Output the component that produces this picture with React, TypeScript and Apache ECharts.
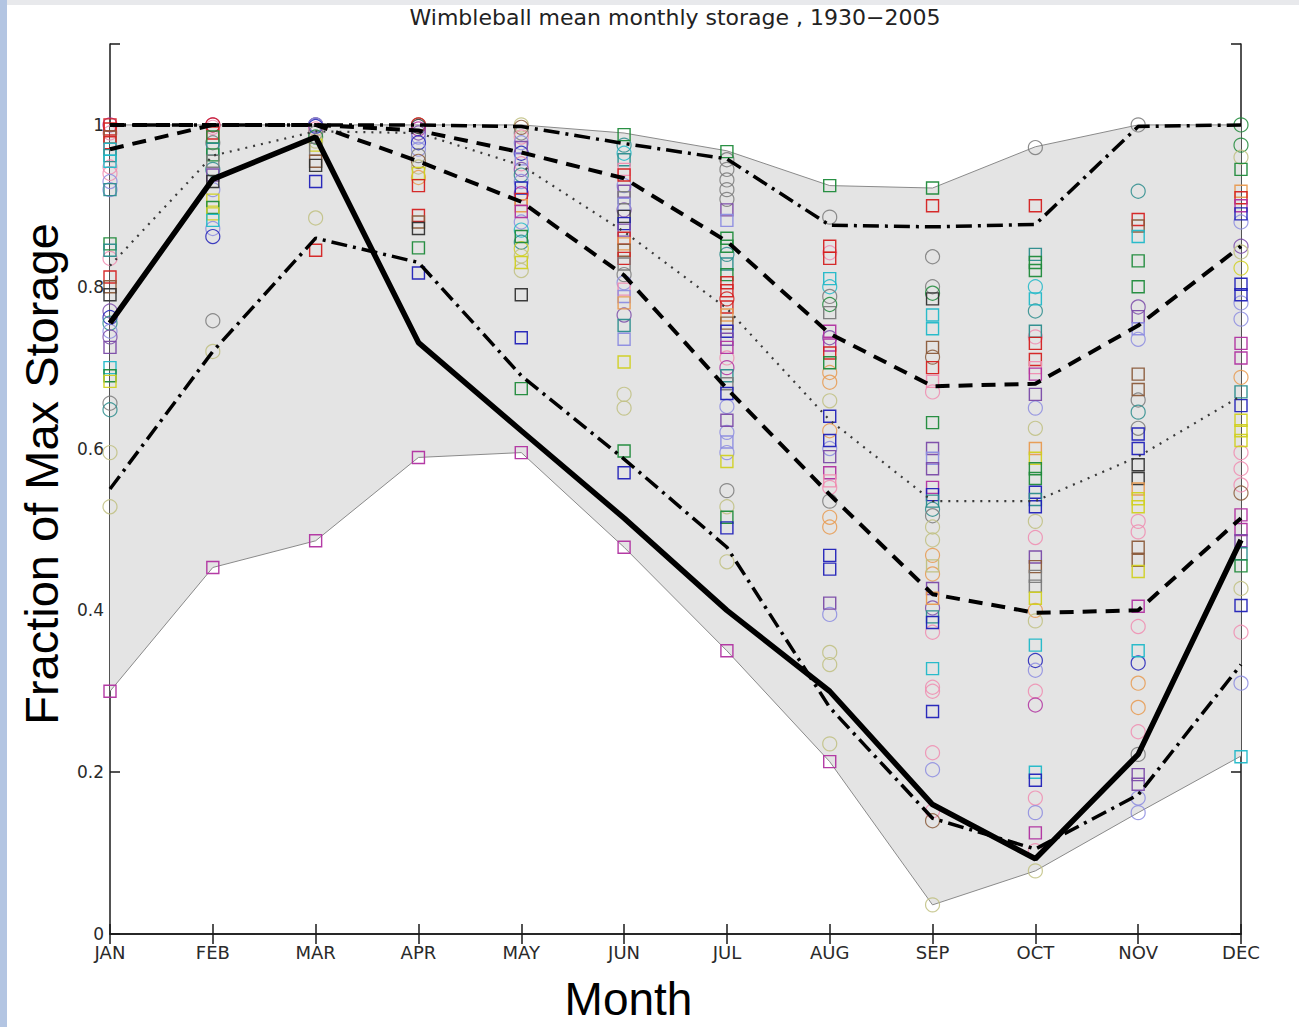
import { useEffect, useRef } from 'react'
import * as echarts from 'echarts'

type Mark = [number, string, 's' | 'o']

const months = ['JAN', 'FEB', 'MAR', 'APR', 'MAY', 'JUN', 'JUL', 'AUG', 'SEP', 'OCT', 'NOV', 'DEC']

// envelope of all years
const maxStorage = [1.0, 1.0, 1.0, 1.0, 1.0, 0.99, 0.968, 0.925, 0.922, 0.973, 1.0, 1.0]
const minStorage = [0.3, 0.453, 0.486, 0.589, 0.595, 0.478, 0.35, 0.213, 0.036, 0.078, 0.15, 0.22]

// highlighted year (thick solid)
const thickYear = [0.755, 0.933, 0.985, 0.731, 0.622, 0.514, 0.4, 0.3, 0.16, 0.093, 0.222, 0.487]
const upperDashDot = [1.0, 1.0, 1.0, 1.0, 0.998, 0.977, 0.958, 0.876, 0.874, 0.877, 0.998, 1.0]
const upperDashed = [1.0, 1.0, 1.0, 0.993, 0.966, 0.934, 0.856, 0.742, 0.677, 0.68, 0.752, 0.85]
const medianDotted = [0.826, 0.962, 0.992, 0.99, 0.95, 0.868, 0.773, 0.635, 0.535, 0.535, 0.59, 0.665]
const lowerDashed = [0.97, 1.0, 1.0, 0.955, 0.905, 0.814, 0.674, 0.543, 0.42, 0.397, 0.4, 0.514]
const lowerDashDot = [0.55, 0.72, 0.86, 0.83, 0.69, 0.587, 0.478, 0.28, 0.143, 0.105, 0.172, 0.333]

const palette: Record<string, string> = {
  r: '#d42020', g: '#1e8a3a', b: '#2020b8', c: '#20b8c8', m: '#b030a0',
  y: '#d0d020', k: '#303030', p: '#f08cb0', l: '#8c8ce0', o: '#e89a50',
  n: '#8a5a3a', v: '#c0c080', a: '#7a7a7a', t: '#2a8c8c', u: '#7a4aa8',
}

const janMarks: Mark[] = [
  [1.0, 'r', 's'], [1.0, 'm', 'o'], [0.995, 'r', 's'], [0.99, 'p', 'o'], [0.985, 'n', 's'], [0.978, 'r', 's'],
  [0.97, 'c', 's'], [0.962, 't', 's'], [0.955, 'c', 's'], [0.948, 'p', 'o'], [0.94, 'p', 'o'], [0.93, 'l', 'o'],
  [0.92, 't', 's'], [0.92, 'l', 'o'], [0.853, 'g', 's'], [0.845, 't', 's'], [0.835, 'p', 'o'], [0.812, 'r', 's'],
  [0.8, 'n', 's'], [0.79, 'k', 's'], [0.77, 'u', 'o'], [0.762, 'b', 'o'], [0.755, 't', 'o'], [0.745, 'l', 'o'],
  [0.738, 'u', 'o'], [0.725, 'u', 's'], [0.7, 'c', 's'], [0.69, 'g', 's'], [0.683, 'y', 's'], [0.656, 'a', 'o'],
  [0.648, 't', 'o'], [0.595, 'v', 'o'], [0.528, 'v', 'o'], [0.3, 'm', 's'],
]
const febMarks: Mark[] = [
  [1.0, 'm', 'o'], [1.0, 'r', 'o'], [0.997, 'p', 'o'], [0.99, 'r', 's'], [0.985, 'g', 's'], [0.978, 'a', 'o'],
  [0.97, 't', 's'], [0.963, 'g', 's'], [0.955, 'a', 's'], [0.945, 't', 'o'], [0.938, 'u', 's'], [0.93, 'k', 's'],
  [0.92, 'l', 'o'], [0.907, 'y', 's'], [0.898, 'g', 's'], [0.89, 'y', 's'], [0.882, 'c', 's'], [0.872, 'l', 'o'],
  [0.862, 'b', 'o'], [0.758, 'a', 'o'], [0.72, 'v', 'o'], [0.453, 'm', 's'],
]
const marMarks: Mark[] = [
  [1.0, 'a', 'o'], [1.0, 'u', 'o'], [1.0, 'l', 'o'], [0.998, 'b', 'o'], [0.995, 'p', 'o'], [0.99, 'a', 'o'],
  [0.985, 'g', 'o'], [0.98, 'v', 'o'], [0.975, 'y', 's'], [0.97, 'a', 's'], [0.955, 'n', 's'], [0.95, 'k', 's'],
  [0.93, 'b', 's'], [0.885, 'v', 'o'], [0.845, 'r', 's'], [0.486, 'm', 's'],
]
const aprMarks: Mark[] = [
  [1.0, 'n', 'o'], [1.0, 'r', 'o'], [0.998, 'k', 'o'], [0.995, 'm', 'o'], [0.99, 'u', 'o'], [0.985, 'l', 'o'],
  [0.978, 'b', 'o'], [0.97, 'l', 'o'], [0.962, 'a', 'o'], [0.955, 'n', 'o'], [0.948, 'v', 'o'], [0.94, 'y', 's'],
  [0.935, 'o', 'o'], [0.925, 'r', 's'], [0.888, 'r', 's'], [0.88, 'n', 's'], [0.872, 'k', 's'], [0.848, 'g', 's'],
  [0.817, 'b', 's'], [0.589, 'm', 's'],
]
const mayMarks: Mark[] = [
  [1.0, 'v', 'o'], [0.997, 'n', 'o'], [0.99, 'a', 'o'], [0.985, 'p', 'o'], [0.978, 'l', 'o'], [0.972, 'u', 's'],
  [0.965, 'b', 'o'], [0.958, 'l', 's'], [0.952, 'p', 'o'], [0.945, 'u', 'o'], [0.938, 't', 'o'], [0.93, 'l', 'o'],
  [0.922, 'b', 's'], [0.915, 'm', 'o'], [0.908, 'r', 's'], [0.9, 'o', 's'], [0.893, 'm', 's'], [0.88, 'l', 'o'],
  [0.87, 'c', 'o'], [0.862, 'g', 's'], [0.855, 't', 'o'], [0.847, 'y', 'o'], [0.838, 'v', 'o'], [0.83, 'y', 's'],
  [0.82, 'v', 'o'], [0.79, 'k', 's'], [0.737, 'b', 's'], [0.674, 'g', 's'], [0.595, 'm', 's'],
]
const junMarks: Mark[] = [
  [0.988, 'g', 's'], [0.975, 't', 'o'], [0.965, 'c', 'o'], [0.957, 't', 's'], [0.945, 'p', 's'], [0.938, 'r', 's'],
  [0.925, 'l', 'o'], [0.918, 'u', 's'], [0.91, 'a', 's'], [0.902, 'l', 's'], [0.895, 'u', 'o'], [0.887, 'k', 's'],
  [0.878, 'b', 's'], [0.87, 'u', 's'], [0.86, 'r', 's'], [0.853, 'o', 's'], [0.845, 'n', 's'], [0.835, 'r', 's'],
  [0.828, 'a', 's'], [0.815, 'a', 'o'], [0.805, 'l', 'o'], [0.797, 'p', 's'], [0.788, 'l', 's'], [0.78, 'o', 's'],
  [0.765, 'u', 'o'], [0.752, 't', 's'], [0.735, 'l', 's'], [0.707, 'y', 's'], [0.667, 'v', 'o'], [0.65, 'v', 'o'],
  [0.597, 'g', 's'], [0.57, 'b', 's'], [0.478, 'm', 's'],
]
const julMarks: Mark[] = [
  [0.967, 'g', 's'], [0.957, 'a', 'o'], [0.945, 'a', 'o'], [0.932, 'a', 'o'], [0.92, 'a', 'o'], [0.908, 'a', 'o'],
  [0.895, 'u', 's'], [0.882, 'l', 's'], [0.86, 'g', 's'], [0.85, 'g', 's'], [0.84, 't', 'o'], [0.828, 't', 's'],
  [0.815, 'g', 's'], [0.805, 'r', 's'], [0.795, 'r', 's'], [0.785, 'r', 'o'], [0.775, 'r', 's'], [0.765, 'o', 's'],
  [0.755, 'n', 's'], [0.745, 'b', 's'], [0.735, 'u', 's'], [0.725, 'm', 's'], [0.712, 'p', 'o'], [0.7, 'm', 'o'],
  [0.69, 't', 's'], [0.68, 'a', 's'], [0.668, 'b', 's'], [0.652, 'l', 'o'], [0.635, 'u', 's'], [0.62, 'l', 'o'],
  [0.608, 'l', 's'], [0.595, 'l', 'o'], [0.584, 'y', 's'], [0.548, 'a', 'o'], [0.528, 'v', 'o'], [0.515, 'g', 's'],
  [0.502, 'b', 's'], [0.46, 'v', 'o'], [0.35, 'm', 's'],
]
const augMarks: Mark[] = [
  [0.925, 'g', 's'], [0.886, 'a', 'o'], [0.85, 'r', 's'], [0.842, 'p', 'o'], [0.835, 'r', 's'], [0.81, 'c', 's'],
  [0.8, 'c', 'o'], [0.788, 'a', 'o'], [0.778, 'g', 'o'], [0.768, 'a', 's'], [0.745, 'm', 's'], [0.737, 'u', 'o'],
  [0.728, 'm', 's'], [0.718, 'r', 's'], [0.706, 'g', 's'], [0.694, 'o', 'o'], [0.682, 'o', 'o'], [0.659, 'v', 'o'],
  [0.64, 'b', 's'], [0.622, 'o', 'o'], [0.61, 'b', 's'], [0.6, 'l', 'o'], [0.59, 'u', 's'], [0.57, 'm', 's'],
  [0.56, 'p', 's'], [0.552, 'p', 'o'], [0.535, 'a', 'o'], [0.515, 'o', 'o'], [0.503, 'o', 'o'], [0.468, 'b', 's'],
  [0.451, 'b', 's'], [0.409, 'u', 's'], [0.395, 'l', 'o'], [0.348, 'v', 'o'], [0.333, 'v', 'o'], [0.235, 'v', 'o'],
  [0.213, 'm', 's'],
]
const sepMarks: Mark[] = [
  [0.922, 'g', 's'], [0.9, 'r', 's'], [0.837, 'a', 'o'], [0.8, 'a', 'o'], [0.792, 'g', 'o'], [0.785, 'k', 's'],
  [0.765, 'c', 's'], [0.748, 'c', 's'], [0.725, 'n', 's'], [0.713, 'n', 'o'], [0.7, 'r', 's'], [0.683, 'p', 's'],
  [0.67, 'p', 'o'], [0.632, 'g', 's'], [0.6, 'u', 's'], [0.588, 'l', 's'], [0.575, 'u', 's'], [0.552, 'm', 's'],
  [0.543, 'b', 's'], [0.535, 't', 's'], [0.525, 't', 'o'], [0.517, 'a', 'o'], [0.503, 'v', 'o'], [0.487, 'v', 'o'],
  [0.468, 'o', 'o'], [0.455, 'v', 's'], [0.445, 'o', 'o'], [0.427, 'u', 's'], [0.415, 'o', 's'], [0.403, 'u', 'o'],
  [0.392, 't', 's'], [0.385, 'b', 's'], [0.373, 'p', 'o'], [0.328, 'c', 's'], [0.305, 'p', 'o'], [0.3, 'p', 'o'],
  [0.275, 'b', 's'], [0.224, 'p', 'o'], [0.203, 'l', 'o'], [0.152, 'p', 'o'], [0.14, 'n', 'o'], [0.036, 'v', 'o'],
]
const octMarks: Mark[] = [
  [0.972, 'a', 'o'], [0.9, 'r', 's'], [0.84, 't', 's'], [0.83, 'g', 's'], [0.82, 'g', 's'], [0.8, 'c', 'o'],
  [0.785, 'c', 's'], [0.77, 't', 'o'], [0.745, 't', 's'], [0.738, 'p', 'o'], [0.73, 'r', 's'], [0.71, 'r', 's'],
  [0.7, 'p', 's'], [0.692, 'm', 's'], [0.667, 'u', 's'], [0.65, 'l', 'o'], [0.625, 'v', 'o'], [0.6, 'o', 's'],
  [0.588, 'y', 's'], [0.575, 'g', 's'], [0.563, 'g', 's'], [0.546, 'b', 's'], [0.537, 't', 's'], [0.528, 'b', 's'],
  [0.51, 'v', 'o'], [0.49, 'p', 'o'], [0.466, 'u', 's'], [0.454, 'n', 's'], [0.442, 'a', 's'], [0.43, 'a', 's'],
  [0.415, 'y', 's'], [0.4, 'o', 'o'], [0.387, 'v', 'o'], [0.357, 'c', 's'], [0.338, 'b', 'o'], [0.326, 'l', 'o'],
  [0.3, 'p', 'o'], [0.283, 'm', 'o'], [0.2, 'c', 's'], [0.19, 'b', 's'], [0.168, 'p', 'o'], [0.15, 'l', 'o'],
  [0.125, 'm', 's'], [0.103, 'p', 'o'], [0.078, 'v', 'o'],
]
const novMarks: Mark[] = [
  [1.0, 'a', 'o'], [0.918, 't', 'o'], [0.883, 'r', 's'], [0.875, 'n', 's'], [0.862, 'c', 's'], [0.832, 'g', 's'],
  [0.8, 'g', 's'], [0.775, 'u', 'o'], [0.763, 'u', 's'], [0.748, 'l', 's'], [0.735, 'l', 'o'], [0.692, 'n', 's'],
  [0.673, 'n', 's'], [0.66, 'a', 'o'], [0.645, 't', 'o'], [0.625, 'a', 'o'], [0.618, 'b', 's'], [0.6, 'b', 's'],
  [0.58, 'k', 's'], [0.563, 'k', 's'], [0.55, 'o', 's'], [0.538, 'y', 's'], [0.528, 'y', 's'], [0.51, 'p', 'o'],
  [0.497, 'p', 'o'], [0.478, 'n', 's'], [0.462, 'n', 's'], [0.448, 'y', 's'], [0.405, 'm', 's'], [0.38, 'p', 'o'],
  [0.35, 'c', 's'], [0.335, 'b', 'o'], [0.31, 'o', 'o'], [0.28, 'o', 'o'], [0.25, 'p', 'o'], [0.222, 'a', 'o'],
  [0.197, 'u', 's'], [0.185, 'u', 's'], [0.168, 'l', 'o'], [0.15, 'l', 'o'],
]
const decMarks: Mark[] = [
  [1.0, 'g', 'o'], [0.975, 'g', 'o'], [0.96, 'v', 'o'], [0.945, 'g', 's'], [0.918, 'o', 's'], [0.91, 'r', 's'],
  [0.9, 'm', 's'], [0.89, 'b', 's'], [0.88, 'l', 'o'], [0.85, 'u', 'o'], [0.843, 'v', 'o'], [0.823, 'y', 'o'],
  [0.803, 'b', 's'], [0.79, 'b', 's'], [0.78, 'l', 'o'], [0.76, 'l', 'o'], [0.73, 'm', 's'], [0.712, 'm', 's'],
  [0.688, 'o', 'o'], [0.67, 't', 's'], [0.653, 'b', 's'], [0.635, 'y', 's'], [0.622, 'y', 's'], [0.61, 'y', 's'],
  [0.595, 'p', 'o'], [0.575, 'p', 'o'], [0.555, 'p', 'o'], [0.545, 'n', 'o'], [0.518, 'm', 's'], [0.5, 'm', 's'],
  [0.486, 'u', 's'], [0.47, 't', 's'], [0.455, 'g', 's'], [0.427, 'v', 'o'], [0.406, 'b', 's'], [0.373, 'p', 'o'],
  [0.31, 'l', 'o'], [0.219, 'c', 's'],
]

const monthMarks = [janMarks, febMarks, marMarks, aprMarks, mayMarks, junMarks,
  julMarks, augMarks, sepMarks, octMarks, novMarks, decMarks]

const AXIS = '#1a1a1a'

export default function App() {
  const rootRef = useRef<HTMLDivElement | null>(null)
  useEffect(() => {
    if (!rootRef.current) return
    const chart = echarts.init(rootRef.current, null, { renderer: 'svg' })

    const squares: any[] = []
    const circles: any[] = []
    monthMarks.forEach((list, i) => {
      list.forEach(([v, c, m]) => {
        const item = { value: [i, v], itemStyle: { borderColor: palette[c] } }
        if (m === 's') squares.push(item)
        else circles.push(item)
      })
    })

    const curve = (name: string, data: number[], width: number, type: any, color = '#000') => ({
      type: 'line', name, data, symbol: 'none', z: 6, silent: true,
      lineStyle: { color, width, type, cap: 'butt' },
    })

    chart.setOption({
      animation: false,
      title: {
        text: 'Wimbleball mean monthly storage , 1930\u22122005',
        left: 675, top: 6, textAlign: 'center', padding: 0,
        textStyle: { fontSize: 22, fontWeight: 'normal', color: '#222', fontFamily: 'DejaVu Sans' },
      },
      grid: { left: 110, right: 58, top: 44, bottom: 90, containLabel: false },
      xAxis: [
        {
          type: 'category', data: months, boundaryGap: false,
          axisLine: { lineStyle: { color: AXIS, width: 1.5 } },
          axisTick: { inside: true, length: 10, lineStyle: { color: AXIS, width: 1.5 } },
          axisLabel: { color: '#2a2a2a', fontSize: 18, fontFamily: 'DejaVu Sans', margin: 9 },
          splitLine: { show: false },
          name: 'Month', nameLocation: 'middle', nameGap: 42,
          nameTextStyle: { fontSize: 46, color: '#000', fontFamily: 'Liberation Sans', padding: [0, 94, 0, 0] },
        },
        {
          type: 'category', data: months, boundaryGap: false, position: 'top',
          axisLine: { lineStyle: { color: AXIS, width: 1.5 } },
          axisTick: { inside: true, length: 10, lineStyle: { color: AXIS, width: 1.5 } },
          axisLabel: { show: false }, splitLine: { show: false },
        },
      ],
      yAxis: [
        {
          type: 'value', min: 0, max: 1.1, interval: 0.2,
          axisLine: { show: true, lineStyle: { color: AXIS, width: 1.5 } },
          axisTick: { show: true, inside: true, length: 10, lineStyle: { color: AXIS, width: 1.5 } },
          axisLabel: {
            color: '#2a2a2a', fontSize: 17, fontFamily: 'DejaVu Sans', margin: 6,
            formatter: (v: number) => (v > 1.001 ? '' : String(Math.round(v * 10) / 10)),
          },
          splitLine: { show: false },
          name: 'Fraction of Max Storage', nameLocation: 'middle', nameRotate: 90, nameGap: 45,
          nameTextStyle: { fontSize: 47, color: '#000', fontFamily: 'Liberation Sans', padding: [0, 0, 0, 30] },
        },
        {
          type: 'value', min: 0, max: 1.1, interval: 0.2, position: 'right',
          axisLine: { show: true, lineStyle: { color: AXIS, width: 1.5 } },
          axisTick: { show: true, inside: true, length: 10, lineStyle: { color: AXIS, width: 1.5 } },
          axisLabel: { show: false }, splitLine: { show: false },
        },
      ],
      series: [
        {
          type: 'line', name: 'min', data: minStorage, stack: 'env', symbol: 'none', z: 1, silent: true,
          lineStyle: { color: '#8a8a8a', width: 1 },
        },
        {
          type: 'line', name: 'max', data: maxStorage.map((v, i) => v - minStorage[i]), stack: 'env',
          symbol: 'none', z: 1, silent: true,
          lineStyle: { color: '#8a8a8a', width: 1 },
          areaStyle: { color: '#e4e4e4', opacity: 1 },
        },
        {
          type: 'scatter', name: 'years (o)', data: circles, symbol: 'circle', symbolSize: 14, z: 3, silent: true,
          itemStyle: { color: 'rgba(0,0,0,0)', borderWidth: 1.2, opacity: 0.85 },
        },
        {
          type: 'scatter', name: 'years (s)', data: squares, symbol: 'rect', symbolSize: 12, z: 4, silent: true,
          itemStyle: { color: 'rgba(0,0,0,0)', borderWidth: 1.4, opacity: 0.95 },
        },
        curve('median', medianDotted, 2.2, [2, 6], '#3a3a3a'),
        curve('upper dash-dot', upperDashDot, 3.5, [16, 6, 3, 6]),
        curve('lower dash-dot', lowerDashDot, 3.5, [16, 6, 3, 6]),
        curve('upper dashed', upperDashed, 4, [14, 9]),
        curve('lower dashed', lowerDashed, 4, [14, 9]),
        curve('year', thickYear, 5.5, 'solid'),
      ],
    })
    return () => chart.dispose()
  }, [])

  return (
    <div style={{ position: 'absolute', left: 0, top: 0, width: 1299, height: 1027, background: '#fff' }}>
      <div ref={rootRef} style={{ position: 'absolute', left: 0, top: 0, width: 1299, height: 1027 }} />
      <div style={{ position: 'absolute', left: 0, top: 0, width: 1299, height: 5, background: '#e8e9ec' }} />
      <div style={{ position: 'absolute', left: 0, top: 0, width: 7, height: 1027, background: '#b3c5e2' }} />
    </div>
  )
}
